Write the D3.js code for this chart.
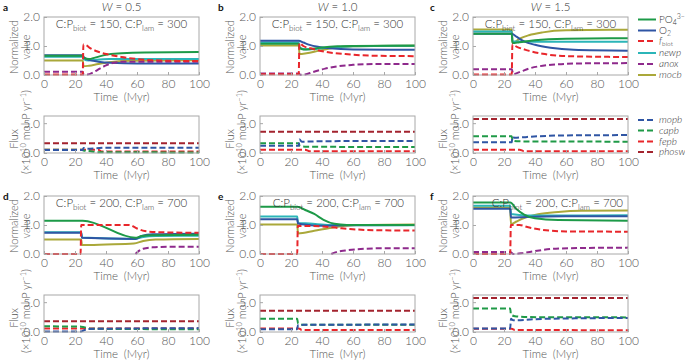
<!DOCTYPE html>
<html>
<head>
<meta charset="utf-8">
<script src="https://cdn.jsdelivr.net/npm/d3@7"></script>
<style>
  body { margin: 0; background: #fff; }
  svg { font-family: Lato, "Open Sans", sans-serif; font-weight: 300; }
</style>
</head>
<body>
<script>
// time in Myr, values as [t, value]
var titles = ["0.5", "1.0", "1.5"];
var ratios = [["150", "300"], ["200", "700"]];
var letters = ["a", "b", "c", "d", "e", "f"];
var xTicks = [0, 20, 40, 60, 80, 100];

// normalized values, top row (C:P 150/300)
var normA = {
  mocb: [[0,.5],[25,.5],[25.5,.3],[29,.32],[35,.38],[42,.44],[55,.49],[100,.51]],
  newp: [[0,.63],[25,.63],[25.5,.55],[29,.5],[34,.53],[42,.55],[100,.55]],
  O2: [[0,.68],[25,.68],[25.5,.62],[29,.52],[35,.46],[43,.42],[60,.4],[100,.4]],
  PO4: [[0,.66],[25,.66],[25.5,.6],[29,.55],[33,.6],[40,.7],[50,.75],[65,.78],[100,.79]],
  anox: [[0,.11],[25,.11],[25.5,.02],[28,.02],[32,.1],[36,.22],[40,.33],[45,.42],[52,.46],[100,.46]],
  fbiot: [[0,.02],[25,.02],[25.4,1.05],[27,1.03],[30,.92],[35,.8],[42,.7],[50,.62],[60,.55],[75,.5],[100,.48]]
};
var normB = {
  mocb: [[0,1.02],[25,1.02],[25.5,.72],[30,.75],[38,.84],[48,.94],[60,.99],[100,1.02]],
  newp: [[0,1.12],[25,1.12],[25.5,.93],[29,.89],[36,.9],[46,.95],[60,.99],[100,1.01]],
  O2: [[0,1.18],[25,1.18],[28,1.12],[32,1.04],[38,.97],[45,.92],[60,.88],[100,.87]],
  PO4: [[0,1.08],[25,1.08],[25.5,.95],[28,.88],[32,.89],[40,.95],[50,.99],[60,1.0],[100,1.01]],
  anox: [[0,.05],[25,.05],[26,.01],[29,.02],[34,.1],[42,.22],[50,.3],[60,.35],[75,.38],[100,.38]],
  fbiot: [[0,.03],[25,.03],[25.4,1.1],[28,1.0],[34,.9],[42,.8],[55,.72],[70,.67],[100,.65]]
};
var normC = {
  mocb: [[0,1.57],[25,1.57],[25.5,1.1],[30,1.25],[36,1.37],[45,1.47],[60,1.54],[100,1.56]],
  newp: [[0,1.5],[25,1.5],[25.5,1.16],[40,1.15],[100,1.15]],
  O2: [[0,1.42],[25,1.42],[28,1.32],[33,1.16],[40,1.04],[50,.94],[65,.87],[100,.84]],
  PO4: [[0,1.42],[25,1.42],[25.5,1.1],[30,1.13],[40,1.2],[60,1.25],[100,1.27]],
  anox: [[0,.2],[25,.2],[26,.03],[30,.1],[36,.22],[45,.32],[55,.37],[70,.4],[100,.41]],
  fbiot: [[0,.02],[25,.02],[25.4,1.05],[28,.98],[35,.85],[45,.73],[60,.65],[100,.62]]
};
// normalized values, bottom row (C:P 200/700)
var normD = {
  mocb: [[0,.5],[24,.5],[24.5,.31],[40,.33],[58,.36],[64,.45],[72,.5],[100,.52]],
  newp: [[0,.75],[24,.75],[24.5,.57],[59,.52],[64,.59],[72,.62],[100,.63]],
  O2: [[0,.73],[24,.73],[24.5,.56],[59,.52],[63,.62],[70,.68],[100,.7]],
  PO4: [[0,1.15],[25,1.15],[59,.56],[63,.62],[70,.65],[100,.66]],
  anox: [[59,0],[61,.1],[64,.18],[70,.23],[80,.25],[100,.25]],
  fbiot: [[0,0],[23.6,0],[24,1.0],[55,1.0],[60,.88],[65,.79],[75,.75],[100,.73]]
};
var normE = {
  mocb: [[0,1.02],[24,1.02],[24.5,.71],[35,.8],[45,.9],[55,.97],[62,1.0],[100,1.02]],
  newp: [[0,1.29],[24,1.29],[24.5,1.07],[32,1.05],[45,1.0],[100,.99]],
  O2: [[0,1.2],[24,1.2],[24.5,1.05],[32,1.0],[40,.97],[55,.99],[100,1.0]],
  PO4: [[0,1.63],[24,1.63],[30,1.5],[35,1.38],[41,1.18],[48,1.04],[56,1.0],[100,1.0]],
  anox: [[46,0],[50,.08],[55,.12],[65,.17],[80,.2],[100,.2]],
  fbiot: [[0,0],[24,0],[24.4,.97],[40,.95],[50,.9],[58,.86],[75,.82],[100,.81]]
};
var normF = {
  mocb: [[0,1.6],[24,1.6],[24.5,1.03],[28,1.12],[33,1.24],[42,1.37],[55,1.45],[70,1.49],[100,1.5]],
  newp: [[0,1.66],[24,1.66],[24.5,1.38],[35,1.33],[60,1.33],[100,1.34]],
  O2: [[0,1.56],[24,1.56],[24.5,1.26],[35,1.28],[60,1.3],[100,1.3]],
  PO4: [[0,1.78],[24,1.78],[28,1.55],[33,1.36],[40,1.23],[55,1.17],[100,1.15]],
  anox: [[0,.07],[24,.07],[26,0],[32,.03],[40,.1],[50,.17],[62,.2],[100,.22]],
  fbiot: [[0,0],[24,0],[24.4,1.0],[30,1.0],[35,.93],[45,.83],[60,.78],[100,.77]]
};

// P fluxes (x10^10 mol P / yr)
var fluxA = {
  phosw: [[0,1.65],[100,1.65]],
  fepb: [[0,.55],[35,.55],[37,.25],[100,.25]],
  capb: [[0,.55],[25,.55],[25.5,.4],[30,.3],[35,.12],[100,.1]],
  mopb: [[0,.5],[25,.5],[25.5,.85],[28,.7],[34,.8],[40,.88],[100,.9]]
};
var fluxB = {
  phosw: [[0,3.55],[100,3.55]],
  fepb: [[0,.55],[29,.55],[32,.3],[100,.3]],
  capb: [[0,1.65],[25,1.65],[25.5,1.25],[29,1.05],[100,1.0]],
  mopb: [[0,1.2],[25,1.2],[25.4,2.25],[27,1.9],[40,1.98],[100,2.02]]
};
var fluxC = {
  phosw: [[0,5.7],[100,5.7]],
  fepb: [[0,.55],[30,.55],[33,.3],[100,.3]],
  capb: [[0,2.8],[25,2.8],[25.5,2.1],[30,1.95],[100,1.9]],
  mopb: [[0,1.8],[25,1.8],[25.4,2.7],[27,2.55],[35,2.7],[60,2.95],[100,3.0]]
};
var fluxD = {
  phosw: [[0,1.8],[100,1.8]],
  fepb: [[0,.6],[100,.6]],
  capb: [[0,.95],[24,.9],[30,.55],[100,.45]],
  mopb: [[0,.1],[24,.1],[28,.5],[40,.55],[100,.65]]
};
var fluxE = {
  phosw: [[0,3.55],[100,3.55]],
  fepb: [[0,.6],[25,.6],[27,.35],[100,.35]],
  capb: [[0,2.2],[24,2.2],[24.5,1.5],[28,1.2],[100,1.2]],
  mopb: [[0,.45],[24,.45],[24.5,1.15],[28,1.2],[100,1.25]]
};
var fluxF = {
  phosw: [[0,5.7],[100,5.7]],
  fepb: [[0,.55],[25,.55],[27,.35],[100,.3]],
  capb: [[0,3.95],[24,3.95],[24.5,2.9],[27,2.65],[35,2.5],[100,2.45]],
  mopb: [[0,.6],[24,.6],[24.5,2.2],[26,1.95],[40,2.15],[70,2.3],[100,2.35]]
};

var normPanels = [normA, normB, normC, normD, normE, normF];
var fluxPanels = [fluxA, fluxB, fluxC, fluxD, fluxE, fluxF];

// styles
var normStyle = {
  PO4: {color: "#1d9a48", dash: null},
  O2: {color: "#2f55a4", dash: null},
  fbiot: {color: "#e8262b", dash: "6,3"},
  newp: {color: "#2bb5b8", dash: null},
  anox: {color: "#8e2a8c", dash: "6,3"},
  mocb: {color: "#aaa83a", dash: null}
};
var fluxStyle = {
  mopb: {color: "#2f55a4", dash: "6,3"},
  capb: {color: "#1f9a47", dash: "6,3"},
  fepb: {color: "#e8262b", dash: "6,3"},
  phosw: {color: "#a3232e", dash: "6,3"}
};

var W = 685, H = 361;
var colLeft = [44, 260, 473], pw = 155;
var rowOff = [0, 179];
var normTop = 17, normBot = 75, fluxTop = 116, fluxBot = 153;

var svg = d3.select("body").append("svg")
  .attr("width", W).attr("height", H);

var x = d3.scaleLinear().domain([0, 100]).range([0, pw]);
var yN = d3.scaleLinear().domain([0, 2]).range([normBot - normTop, 0]);
var yF = d3.scaleLinear().domain([0, 6.2]).range([fluxBot - fluxTop, 0]);

function frame(g, y, h, yticks) {
  g.append("rect").attr("width", pw).attr("height", h)
    .attr("fill", "none").attr("stroke", "#a8a8a8").attr("stroke-width", 1);
  var ax = g.append("g").attr("transform", "translate(0," + h + ")")
    .call(d3.axisBottom(x).tickValues(xTicks).tickSize(-3).tickPadding(4));
  var ay = g.append("g")
    .call(d3.axisLeft(y).tickValues(yticks).tickSize(-3).tickPadding(4));
  [ax, ay].forEach(function(a) {
    a.select(".domain").remove();
    a.selectAll("line").attr("stroke", "#a8a8a8");
    a.selectAll("text").attr("font-size", 12).attr("fill", "#555")
      .attr("font-family", "Lato, sans-serif");
  });
}

function draw(g, data, style, y) {
  var line = d3.line()
    .x(function(d) { return x(d[0]); })
    .y(function(d) { return y(d[1]); })
    .curve(d3.curveMonotoneX);
  Object.keys(data).forEach(function(k) {
    g.append("path").datum(data[k])
      .attr("d", line)
      .attr("fill", "none")
      .attr("stroke", style[k].color)
      .attr("stroke-width", 2)
      .attr("stroke-dasharray", style[k].dash);
  });
}

function ratioLabel(g, r, anchorX, anchor, y) {
  var t = g.append("text").attr("x", anchorX).attr("y", y)
    .attr("text-anchor", anchor).attr("font-size", 11.5).attr("fill", "#333");
  t.append("tspan").text("C:P");
  t.append("tspan").text("biot").attr("font-size", 8).attr("dy", 3);
  t.append("tspan").text(" = " + r[0] + ", C:P").attr("dy", -3);
  t.append("tspan").text("lam").attr("font-size", 8).attr("dy", 3);
  t.append("tspan").text(" = " + r[1]).attr("dy", -3);
}

function ylab(cx, cy, txt) {
  return svg.append("text")
    .attr("transform", "translate(" + cx + "," + cy + ") rotate(-90)")
    .attr("text-anchor", "middle").attr("dy", "0.35em")
    .attr("font-size", 11).attr("fill", "#555").text(txt);
}

for (var i = 0; i < 6; i++) {
  var col = i % 3, row = Math.floor(i / 3);
  var left = colLeft[col], off = rowOff[row];

  var gN = svg.append("g").attr("transform", "translate(" + left + "," + (normTop + off) + ")");
  draw(gN, normPanels[i], normStyle, yN);
  frame(gN, yN, normBot - normTop, [0, 1, 2]);

  var gF = svg.append("g").attr("transform", "translate(" + left + "," + (fluxTop + off) + ")");
  draw(gF, fluxPanels[i], fluxStyle, yF);
  frame(gF, yF, fluxBot - fluxTop, [0, 5]);

  // ratio annotation
  if (row === 0 || col === 0) ratioLabel(gN, ratios[row], pw / 2, "middle", 11);
  else ratioLabel(gN, ratios[row], col === 1 ? 144 : 150, "end", 11);

  // x titles
  [normBot, fluxBot].forEach(function(b) {
    svg.append("text").attr("x", left + pw / 2).attr("y", b + off + 26)
      .attr("text-anchor", "middle").attr("font-size", 11.5).attr("fill", "#555")
      .text("Time\u2002(Myr)");
  });

  // y titles
  ylab(left - 30, 47 + off, "Normalized");
  ylab(left - 18, 47 + off, "value");
  ylab(left - 30, 139 + off, "Flux");
  var t2 = ylab(left - 18, 132 + off, "");
  t2.append("tspan").text("(\u00d710");
  t2.append("tspan").text("10").attr("font-size", 7.5).attr("dy", -4);
  t2.append("tspan").text(" mol P yr").attr("dy", 4);
  t2.append("tspan").text("\u22121").attr("font-size", 7.5).attr("dy", -4);
  t2.append("tspan").text(")").attr("dy", 4);

  // panel letter
  svg.append("text").attr("x", [3, 218, 430][col]).attr("y", [11, 200][row])
    .attr("font-size", 10).attr("font-weight", "bold").attr("fill", "#111")
    .text(letters[i]);
}

// W titles
titles.forEach(function(w, c) {
  var t = svg.append("text").attr("x", colLeft[c] + pw / 2).attr("y", 11)
    .attr("text-anchor", "middle").attr("font-size", 11.5).attr("fill", "#333");
  t.append("tspan").text("W").attr("font-style", "italic");
  t.append("tspan").text(" = " + w);
});

// legends
var normLeg = [
  {k: "PO4", y: 19.5}, {k: "O2", y: 30.5}, {k: "fbiot", y: 41},
  {k: "newp", y: 53}, {k: "anox", y: 64}, {k: "mocb", y: 75}
];
var fluxLeg = [{k: "mopb", y: 120}, {k: "capb", y: 130.5}, {k: "fepb", y: 141.5}, {k: "phosw", y: 152}];

function legItem(st, y) {
  svg.append("line").attr("x1", 638).attr("x2", 656).attr("y1", y).attr("y2", y)
    .attr("stroke", st.color).attr("stroke-width", 2).attr("stroke-dasharray", st.dash);
  return svg.append("text").attr("x", 659).attr("y", y).attr("dy", "0.33em")
    .attr("font-size", 10).attr("fill", "#333");
}

normLeg.forEach(function(d) {
  var t = legItem(normStyle[d.k], d.y);
  if (d.k === "PO4") {
    t.append("tspan").text("PO");
    t.append("tspan").text("4").attr("font-size", 7).attr("dy", 2.5);
    t.append("tspan").text("3\u2212").attr("font-size", 7).attr("dy", -6.5);
  } else if (d.k === "O2") {
    t.append("tspan").text("O");
    t.append("tspan").text("2").attr("font-size", 7).attr("dy", 2.5);
  } else if (d.k === "fbiot") {
    t.append("tspan").text("f").attr("font-style", "italic");
    t.append("tspan").text("biot").attr("font-size", 6.5).attr("dy", 1.5);
  } else {
    t.text(d.k).attr("font-style", "italic");
  }
});
fluxLeg.forEach(function(d) {
  legItem(fluxStyle[d.k], d.y).text(d.k).attr("font-style", "italic");
});
</script>
</body>
</html>
